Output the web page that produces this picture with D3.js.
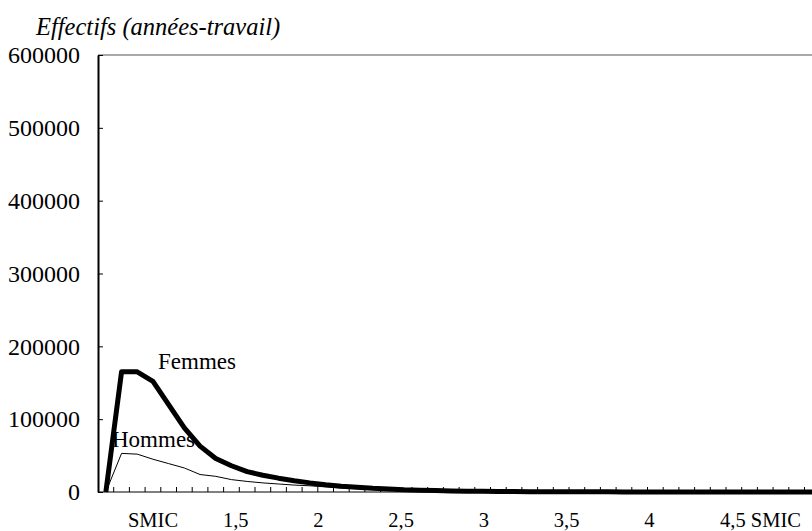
<!DOCTYPE html>
<html>
<head>
<meta charset="utf-8">
<script src="https://cdn.jsdelivr.net/npm/d3@7"></script>
</head>
<body style="margin:0; background:#fff">
<script>
// Tranches de salaire (en multiples du SMIC), pas de 0,1
const tranches = ["0,9","1,0","1,1","1,2","1,3","1,4","1,5","1,6","1,7","1,8",
                  "1,9","2,0","2,1","2,2","2,3","2,4","2,5","2,6","2,7","2,8",
                  "2,9","3,0","3,1","3,2","3,3","3,4","3,5","3,6","3,7","3,8",
                  "3,9","4,0","4,1","4,2","4,3","4,4","4,5","4,6","4,7","4,8",
                  "4,9","5,0","5,1","5,2","5,3","5,4"];

// Effectifs en années-travail
const femmes = [0, 165000, 165000, 152000, 120000, 88000, 63000, 46000, 36000, 28000,
                23000, 19000, 15500, 12500, 10000, 8000, 6500, 5000, 4000, 3000,
                2500, 2000, 1500, 1200, 1000, 800, 600, 500, 400, 300,
                300, 200, 200, 100, 100, 100, 0, 0, 0, 0,
                0, 0, 0, 0, 0, 0];
const hommes = [0, 53000, 52000, 45000, 39000, 33000, 24000, 21500, 17000, 14500,
                12500, 11000, 9500, 8500, 7000, 5500, 4500, 3500, 2800, 2200,
                1800, 1400, 1100, 900, 700, 500, 400, 300, 200, 200,
                100, 100, 100, 0, 0, 0, 0, 0, 0, 0,
                0, 0, 0, 0, 0, 0];

const yTicks = [0, 100000, 200000, 300000, 400000, 500000, 600000];
const xLabelValues = [1, 1.5, 2, 2.5, 3, 3.5, 4, 4.5];
const xLabelTexts = ["SMIC", "1,5", "2", "2,5", "3", "3,5", "4", "4,5 SMIC"];

const W = 812, H = 531;
const mLeft = 98, mTop = 55, mBottom = 492, bandW = 15.7;
const serif = '"Liberation Serif"';

const svg = d3.select("body").append("svg")
    .attr("width", W)
    .attr("height", H);

const x = d3.scaleBand()
    .domain(tranches)
    .range([mLeft, mLeft + tranches.length * bandW])
    .paddingInner(0).paddingOuter(0);

const y = d3.scaleLinear()
    .domain([0, 600000])
    .range([mBottom, mTop]);

// position des étiquettes de l'axe horizontal
const xLab = d3.scaleLinear().domain([1, 4.5]).range([153, 732]);

// cadre : ligne du haut
svg.append("line")
    .attr("x1", mLeft).attr("x2", x.range()[1])
    .attr("y1", mTop).attr("y2", mTop)
    .attr("stroke", "#555").attr("stroke-width", 1.2);

// axe vertical
const yAxis = d3.axisLeft(y)
    .tickValues(yTicks)
    .tickFormat(d3.format("d"))
    .tickSizeInner(-5)
    .tickSizeOuter(0)
    .tickPadding(18);

const gy = svg.append("g")
    .attr("transform", `translate(${mLeft},0)`)
    .call(yAxis)
    .attr("font-family", null)
    .attr("font-size", null);
gy.select(".domain").attr("stroke", "#000").attr("stroke-width", 2);
gy.selectAll(".tick line").attr("stroke", "#000");
gy.selectAll(".tick text")
    .attr("fill", "#000")
    .style("font-family", serif)
    .style("font-size", "24px");

// axe horizontal
svg.append("line")
    .attr("x1", mLeft).attr("x2", x.range()[1])
    .attr("y1", mBottom).attr("y2", mBottom)
    .attr("stroke", "#000").attr("stroke-width", 1);

svg.append("g").selectAll("line")
    .data(tranches.slice(1))
    .enter().append("line")
    .attr("x1", d => x(d)).attr("x2", d => x(d))
    .attr("y1", mBottom).attr("y2", mBottom - 5)
    .attr("stroke", "#000").attr("stroke-width", 1);

svg.append("g").selectAll("text")
    .data(xLabelValues)
    .enter().append("text")
    .attr("x", d => xLab(d))
    .attr("y", 527)
    .attr("text-anchor", (d, i) => i === xLabelValues.length - 1 ? "start" : "middle")
    .attr("dx", (d, i) => i === xLabelValues.length - 1 ? -12 : 0)
    .style("font-family", serif)
    .style("font-size", "20.5px")
    .text((d, i) => xLabelTexts[i]);

// courbes
const line = d3.line()
    .x((d, i) => x(tranches[i]) + x.bandwidth() / 2)
    .y(d => y(d));

svg.append("path")
    .datum(hommes)
    .attr("d", line)
    .attr("fill", "none")
    .attr("stroke", "#000")
    .attr("stroke-width", 1);

svg.append("path")
    .datum(femmes)
    .attr("d", line)
    .attr("fill", "none")
    .attr("stroke", "#000")
    .attr("stroke-width", 5)
    .attr("stroke-linejoin", "round");

// étiquettes des séries
svg.append("text")
    .attr("x", 158).attr("y", 369)
    .style("font-family", serif)
    .style("font-size", "23px")
    .text("Femmes");

svg.append("text")
    .attr("x", 112).attr("y", 447)
    .style("font-family", serif)
    .style("font-size", "23px")
    .text("Hommes");

// titre de l'axe vertical
svg.append("text")
    .attr("x", 36).attr("y", 35)
    .style("font-family", serif)
    .style("font-size", "24.5px")
    .style("font-style", "italic")
    .text("Effectifs (années-travail)");
</script>
</body>
</html>
